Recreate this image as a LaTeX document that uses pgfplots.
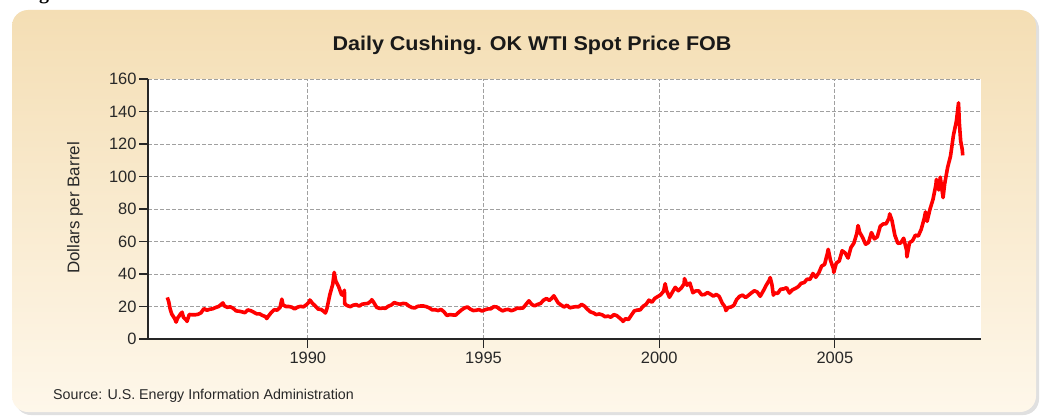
\documentclass[border=0pt]{standalone}
\usepackage{pgfplots}
\pgfplotsset{compat=1.18}
\usepackage{fontspec}
\setmainfont{Liberation Sans}
\newfontfamily\seriffont{Liberation Serif}
\definecolor{panelTop}{RGB}{244,222,180}
\definecolor{panelBot}{RGB}{254,247,234}
\definecolor{gridc}{RGB}{160,160,160}
\definecolor{txt}{RGB}{40,40,40}
\begin{document}
\begin{tikzpicture}[x=1bp,y=1bp]
\useasboundingbox (0,0) rectangle (1042,417);
\fill[white] (0,0) rectangle (1042,417);
\node[anchor=base, font=\seriffont\bfseries\fontsize{20}{20}\selectfont, inner sep=0pt] at (44,417.5) {g};
\fill[black!12, rounded corners=16bp] (15,2) rectangle (1039,404);
\shade[top color=panelTop, bottom color=panelBot, rounded corners=16bp] (12,5) rectangle (1036,407);
\begin{axis}[
  at={(148bp,78bp)}, anchor=south west,
  scale only axis, width=833bp, height=260bp,
  xmin=1985.45, xmax=2009.16, ymin=0, ymax=160,
  axis background/.style={fill=white},
  axis x line*=bottom, axis y line*=left,
  axis line style={-, black!85, line width=1.3bp},
  xtick={1990,1995,2000,2005},
  xticklabels={1990,1995,2000,2005},
  ytick={0,20,40,60,80,100,120,140,160},
  yticklabels={0,20,40,60,80,100,120,140,160},
  tick align=outside, major tick length=9bp,
  tick style={black!85, line width=1.2bp},
  grid=major,
  major grid style={gridc, dash pattern=on 4bp off 2bp, line width=0.8bp},
  ticklabel style={font=\fontsize{16.5}{16.5}\selectfont, text=txt},
  yticklabel style={xshift=1bp},
  /pgf/number format/assume math mode=true,
  clip=false,
]
\addplot[red, line width=3.6bp, line join=round, mark=none] coordinates {
(1986.00,25.6) (1986.04,22.9) (1986.08,18.5) (1986.125,15.4) (1986.208,12.6) (1986.25,10.4)
(1986.292,12.8) (1986.375,15.4) (1986.42,16.5) (1986.458,13.4) (1986.542,11.6) (1986.56,10.8)
(1986.625,15.1) (1986.708,14.9) (1986.792,14.9) (1986.875,15.2) (1986.958,16.1)
(1987.042,18.7) (1987.125,17.7) (1987.208,18.3) (1987.292,18.6) (1987.375,19.4) (1987.458,20.0)
(1987.542,21.4) (1987.58,22.2) (1987.625,20.3) (1987.708,19.5) (1987.792,19.8) (1987.875,18.9) (1987.958,17.3)
(1988.042,17.1) (1988.125,16.7) (1988.208,16.2) (1988.292,17.9) (1988.375,17.4) (1988.458,16.5)
(1988.542,15.5) (1988.625,15.5) (1988.708,14.5) (1988.792,13.8) (1988.83,12.6) (1988.875,14.0) (1988.958,16.3)
(1989.042,18.0) (1989.125,17.8) (1989.208,19.4) (1989.26,24.5) (1989.292,21.0) (1989.375,20.0) (1989.458,20.0)
(1989.542,19.6) (1989.625,18.5) (1989.708,19.6) (1989.792,20.1) (1989.875,19.8) (1989.958,21.1)
(1990.042,22.9) (1990.06,24.0) (1990.125,22.1) (1990.208,20.4) (1990.292,18.4) (1990.375,18.2)
(1990.458,16.9) (1990.5,16.0) (1990.542,18.6) (1990.625,27.2) (1990.708,33.7) (1990.75,41.0)
(1990.792,35.9) (1990.875,32.3) (1990.958,27.3) (1991.00,27.0) (1991.04,30.0) (1991.05,21.5)
(1991.125,20.5) (1991.208,19.9) (1991.292,20.8) (1991.375,21.2) (1991.458,20.2) (1991.542,21.4)
(1991.625,21.7) (1991.708,21.9) (1991.792,23.2) (1991.82,24.2) (1991.875,22.5) (1991.958,19.5)
(1992.042,18.8) (1992.125,19.0) (1992.208,18.9) (1992.292,20.2) (1992.375,20.9) (1992.458,22.4)
(1992.542,21.8) (1992.625,21.4) (1992.708,21.9) (1992.792,21.7) (1992.875,20.3) (1992.958,19.4)
(1993.042,19.1) (1993.125,20.1) (1993.208,20.3) (1993.292,20.3) (1993.375,19.9) (1993.458,19.1)
(1993.542,17.9) (1993.625,18.0) (1993.708,17.5) (1993.792,18.2) (1993.875,16.7) (1993.958,14.5)
(1994.042,15.0) (1994.125,14.8) (1994.208,14.7) (1994.292,16.4) (1994.375,17.9) (1994.458,19.1)
(1994.542,19.7) (1994.625,18.4) (1994.708,17.5) (1994.792,17.7) (1994.875,18.1) (1994.958,17.2)
(1995.042,18.0) (1995.125,18.5) (1995.208,18.6) (1995.292,19.9) (1995.375,19.7) (1995.458,18.4)
(1995.542,17.3) (1995.625,18.0) (1995.708,18.2) (1995.792,17.4) (1995.875,18.0) (1995.958,19.0)
(1996.042,18.9) (1996.125,19.1) (1996.208,21.3) (1996.292,23.5) (1996.375,21.2) (1996.458,20.4)
(1996.542,21.3) (1996.625,21.9) (1996.708,23.9) (1996.792,24.9) (1996.875,23.7) (1996.958,25.4)
(1997.00,26.6) (1997.042,25.2) (1997.125,22.2) (1997.208,20.9) (1997.292,19.7) (1997.375,20.8)
(1997.458,19.2) (1997.542,19.6) (1997.625,19.9) (1997.708,19.8) (1997.792,21.3) (1997.875,20.2) (1997.958,18.3)
(1998.042,16.7) (1998.125,16.1) (1998.208,15.0) (1998.292,15.4) (1998.375,14.9) (1998.458,13.7)
(1998.542,14.1) (1998.625,13.4) (1998.708,15.0) (1998.792,14.4) (1998.875,12.9) (1998.958,11.3) (1998.97,10.8)
(1999.042,12.5) (1999.125,12.0) (1999.208,14.7) (1999.292,17.3) (1999.375,17.8) (1999.458,17.9)
(1999.542,20.1) (1999.625,21.3) (1999.708,23.9) (1999.792,22.6) (1999.875,25.0) (1999.958,26.1)
(2000.042,27.2) (2000.125,29.4) (2000.17,34.0) (2000.208,29.9) (2000.292,25.7) (2000.375,28.8)
(2000.458,31.8) (2000.542,29.7) (2000.625,31.3) (2000.708,33.9) (2000.72,37.2) (2000.792,33.1)
(2000.875,34.4) (2000.958,28.5)
(2001.042,29.6) (2001.125,29.6) (2001.208,27.2) (2001.292,27.4) (2001.375,28.6) (2001.458,27.6)
(2001.542,26.4) (2001.625,27.4) (2001.708,26.2) (2001.792,22.2) (2001.875,19.6) (2001.90,17.5) (2001.958,19.3)
(2002.042,19.7) (2002.125,20.7) (2002.208,24.4) (2002.292,26.3) (2002.375,27.0) (2002.458,25.5)
(2002.542,26.9) (2002.625,28.4) (2002.708,29.7) (2002.792,28.9) (2002.875,26.3) (2002.958,29.4)
(2003.042,32.9) (2003.125,35.9) (2003.16,37.8) (2003.208,33.6) (2003.25,27.0) (2003.292,28.3)
(2003.375,28.1) (2003.458,30.7) (2003.542,30.8) (2003.625,31.6) (2003.708,28.3) (2003.792,30.3)
(2003.875,31.1) (2003.958,32.2)
(2004.042,34.3) (2004.125,34.7) (2004.208,36.8) (2004.292,36.7) (2004.375,40.3) (2004.458,38.0)
(2004.542,40.7) (2004.625,44.9) (2004.708,45.9) (2004.792,53.1) (2004.81,55.2) (2004.875,48.5)
(2004.958,43.3) (2004.97,41.0)
(2005.042,46.8) (2005.125,48.0) (2005.208,54.3) (2005.292,53.0) (2005.375,49.8) (2005.458,56.3)
(2005.542,59.0) (2005.625,65.0) (2005.66,69.8) (2005.708,65.6) (2005.792,62.4) (2005.875,58.3) (2005.958,59.4)
(2006.042,65.5) (2006.125,61.6) (2006.208,62.9) (2006.292,69.4) (2006.375,70.8) (2006.458,70.9)
(2006.542,74.4) (2006.56,77.0) (2006.625,73.0) (2006.708,63.8) (2006.792,58.9) (2006.875,59.1) (2006.958,62.0)
(2007.042,54.5) (2007.05,50.5) (2007.125,59.3) (2007.208,60.4) (2007.292,63.9) (2007.375,63.4)
(2007.458,67.5) (2007.542,74.1) (2007.58,78.2) (2007.625,72.4) (2007.708,79.9) (2007.792,85.8)
(2007.875,94.8) (2007.89,98.2) (2007.958,91.7)
(2008.00,99.6) (2008.042,93.0) (2008.08,87.0) (2008.125,95.4) (2008.208,105.4) (2008.292,112.6)
(2008.375,125.4) (2008.458,133.9) (2008.52,145.3) (2008.542,133.4) (2008.58,122.0) (2008.625,116.7) (2008.64,113.0)
};
\end{axis}
\node[font=\bfseries\fontsize{20}{20}\selectfont, text=black!90, xscale=1.08] at (532,372) {Daily Cushing. OK WTI Spot Price FOB};
\node[rotate=90, font=\fontsize{17}{17}\selectfont, text=txt] at (75,209) {Dollars per Barrel};
\node[anchor=west, font=\fontsize{14.3}{14.3}\selectfont, text=txt, inner sep=0pt] at (53,21) {Source: U.S. Energy Information Administration};
\end{tikzpicture}
\end{document}
